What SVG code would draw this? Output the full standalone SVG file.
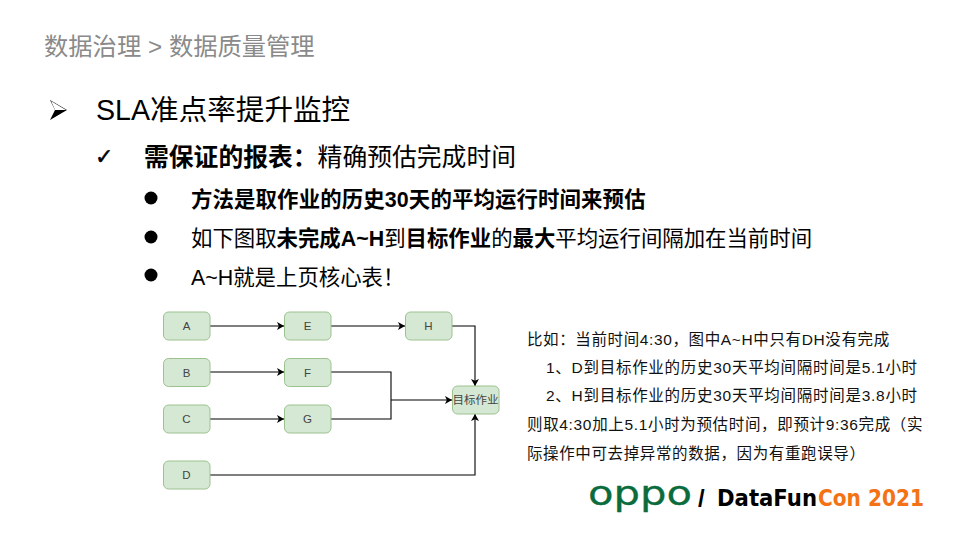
<svg xmlns="http://www.w3.org/2000/svg" width="960" height="540" viewBox="0 0 960 540">
<style>
text{font-family:"Liberation Sans","Noto Sans CJK SC",sans-serif;fill:#000}
.b{font-weight:700}
.l{font-size:21.4px}
.n rect{fill:#d5e8d4;stroke:#9cc28f;stroke-width:1}
.n text{font-size:11.5px;fill:#444;text-anchor:middle}
.a{font-size:15.5px;fill:#111;letter-spacing:.62px}
.c{fill:none;stroke:#000;stroke-width:1.1}
.g{font-family:"DejaVu Sans",sans-serif}
</style>
<defs>
<marker id="ah" markerWidth="8" markerHeight="8" refX="7" refY="4" orient="auto" markerUnits="userSpaceOnUse"><path d="M0 0L7 4L0 8L1.8 4Z" fill="#000"/></marker>
</defs>
<rect width="960" height="540" fill="#fff"/>
<text x="44" y="55" font-size="24.300" style="fill:#8a8a8a">数据治理 &gt; 数据质量管理</text>
<path d="M50 100L67 110L50 120L55 110Z" fill="#000"/>
<path d="M51 101L66 110L55 110Z" fill="#fff"/>
<text x="96" y="120" font-size="28.600">SLA准点率提升监控</text>
<text x="95" y="164" font-size="22" class="g" style="stroke:#000;stroke-width:.5">✓</text>
<text x="144" y="166" font-size="24.800"><tspan class="b">需保证的报表：</tspan>精确预估完成时间</text>
<circle cx="151" cy="198" r="6.500"/>
<circle cx="151" cy="237" r="6.500"/>
<circle cx="151" cy="275" r="6.500"/>
<text x="191" y="206.500" class="l b" style="letter-spacing:.14px">方法是取作业的历史30天的平均运行时间来预估</text>
<text x="191" y="245.500" class="l">如下图取<tspan class="b">未完成A~H</tspan>到<tspan class="b">目标作业</tspan>的<tspan class="b">最大</tspan>平均运行间隔加在当前时间</text>
<text x="191" y="284.500" class="l">A~H就是上页核心表！</text>
<g id="connectors" class="c">
<path d="M210 326H284" marker-end="url(#ah)"/>
<path d="M331 326H405" marker-end="url(#ah)"/>
<path d="M452 326H475V386" marker-end="url(#ah)"/>
<path d="M210 372H284" marker-end="url(#ah)"/>
<path d="M210 419H284" marker-end="url(#ah)"/>
<path d="M331 372H391V419H331"/>
<path d="M391 400H452" marker-end="url(#ah)"/>
<path d="M210 475H475V414" marker-end="url(#ah)"/>
</g>
<g id="node-a" class="n"><rect x="163.500" y="312" width="46.500" height="28" rx="5"/><text x="186.500" y="330">A</text></g>
<g id="node-e" class="n"><rect x="284.500" y="312" width="46.500" height="28" rx="5"/><text x="307.500" y="330">E</text></g>
<g id="node-h" class="n"><rect x="405.500" y="312" width="46.500" height="28" rx="5"/><text x="428.500" y="330">H</text></g>
<g id="node-b" class="n"><rect x="163.500" y="358.500" width="46.500" height="28" rx="5"/><text x="186.500" y="376.500">B</text></g>
<g id="node-f" class="n"><rect x="284.500" y="358.500" width="46.500" height="28" rx="5"/><text x="307.500" y="376.500">F</text></g>
<g id="node-c" class="n"><rect x="163.500" y="405" width="46.500" height="28" rx="5"/><text x="186.500" y="423">C</text></g>
<g id="node-g" class="n"><rect x="284.500" y="405" width="46.500" height="28" rx="5"/><text x="307.500" y="423">G</text></g>
<g id="node-d" class="n"><rect x="163.500" y="461" width="46.500" height="28" rx="5"/><text x="186.500" y="479">D</text></g>
<g id="node-target" class="n"><rect x="452.500" y="386" width="46.500" height="28" rx="5"/><text x="475.500" y="404">目标作业</text></g>
<text class="a" x="527" y="344.500">比如：当前时间4:30，图中A~H中只有DH没有完成</text>
<text class="a" x="546" y="373" style="letter-spacing:.72px">1、D到目标作业的历史30天平均间隔时间是5.1小时</text>
<text class="a" x="546" y="401" style="letter-spacing:.72px">2、H到目标作业的历史30天平均间隔时间是3.8小时</text>
<text class="a" x="527" y="429.500" style="letter-spacing:.66px">则取4:30加上5.1小时为预估时间，即预计9:36完成（实</text>
<text class="a" x="527" y="458.500">际操作中可去掉异常的数据，因为有重跑误导）</text>
<text x="588" y="505" font-size="33" textLength="104" lengthAdjust="spacingAndGlyphs" class="g" style="fill:#0a6b3c;stroke:#0a6b3c;stroke-width:.3">oppo</text>
<text x="698" y="507" font-size="24" class="b">/</text>
<text x="717" y="506" font-size="22.500" textLength="100" lengthAdjust="spacingAndGlyphs" class="g b">DataFun</text>
<text x="818" y="506" font-size="22.500" textLength="106" lengthAdjust="spacingAndGlyphs" class="g b" style="fill:#f47216">Con 2021</text>
</svg>
